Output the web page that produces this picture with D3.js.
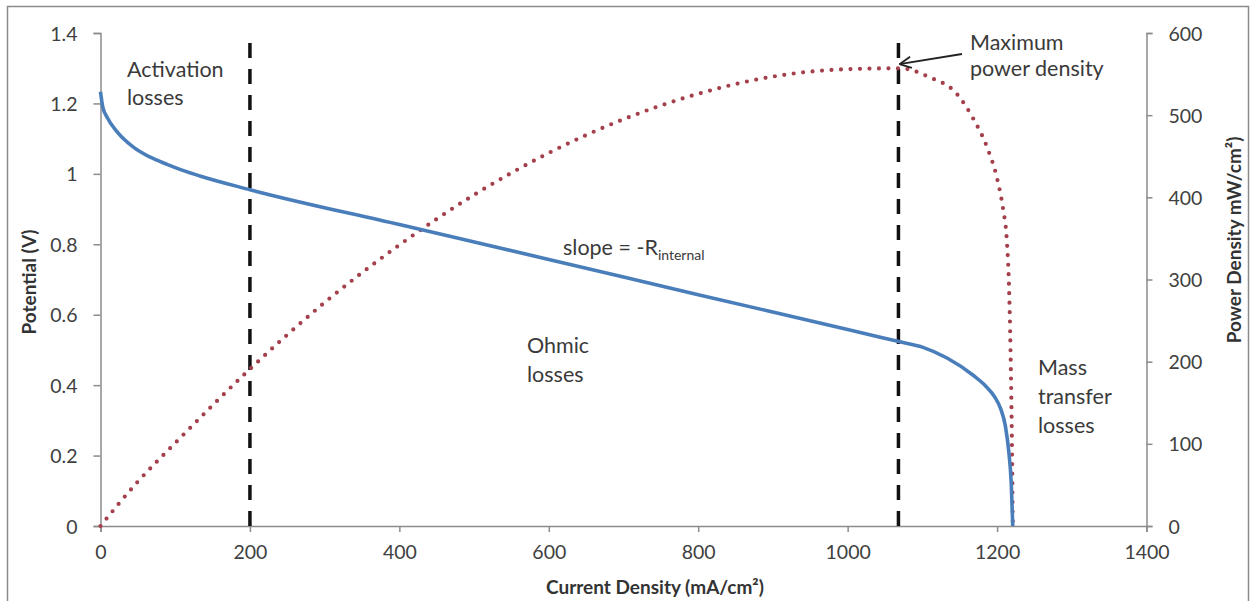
<!DOCTYPE html>
<html>
<head>
<meta charset="utf-8">
<script src="https://cdn.jsdelivr.net/npm/d3@7/dist/d3.min.js"></script>
<style>
  html, body { margin: 0; padding: 0; background: #fff; }
  svg { display: block; font-family: Lato, "Open Sans", sans-serif; }
</style>
</head>
<body>
<svg id="chart" width="1255" height="601"></svg>
<script>
// ---- data ----
const voltCurrent = [0, 3, 9, 22, 44, 66, 89, 110, 133, 200, 400, 600, 800, 1000, 1070, 1100, 1133, 1168, 1185, 1197, 1205, 1211, 1216, 1219, 1221];
const voltage     = [1.233, 1.19, 1.16, 1.12, 1.076, 1.048, 1.027, 1.01, 0.994, 0.955, 0.856, 0.757, 0.657, 0.558, 0.523, 0.508, 0.477, 0.428, 0.397, 0.366, 0.332, 0.285, 0.205, 0.12, 0];

const powerCurrent = [0, 50, 100, 200, 300, 400, 500, 600, 700, 800, 900, 1000, 1070, 1110, 1146, 1168, 1187, 1200, 1208, 1213, 1216, 1218, 1220, 1221];
const powerDensity = [0, 54, 101, 191, 272, 342, 403, 454, 495, 526, 547, 556, 557, 546, 526, 496, 460, 423, 386, 348, 291, 214, 92, 0];

const xTicks = [0, 200, 400, 600, 800, 1000, 1200, 1400];
const yLeftTicks = [0, 0.2, 0.4, 0.6, 0.8, 1, 1.2, 1.4];
const yRightTicks = [0, 100, 200, 300, 400, 500, 600];

const regionLines = [200, 1068];   // dashed vertical dividers (mA/cm²)
const maxPowerPoint = { i: 1068, p: 562 };

// ---- layout ----
const svg = d3.select("#chart");
const plotL = 100.5, plotR = 1146.5, plotT = 33, plotB = 526;

const x = d3.scaleLinear().domain([0, 1400]).range([plotL, plotR]);
const yL = d3.scaleLinear().domain([0, 1.4]).range([plotB, plotT]);
const yR = d3.scaleLinear().domain([0, 600]).range([plotB, plotT]);

const axisColor = "#8c8c8c";
const tickText = "#404040";

// outer border
svg.append("rect").attr("x", 7.5).attr("y", 6.5).attr("width", 1241).attr("height", 600)
  .attr("fill", "none").attr("stroke", "#8a8a8a").attr("stroke-width", 1.5);

function styleAxis(g) {
  g.select(".domain").attr("stroke", axisColor).attr("stroke-width", 1.5);
  g.selectAll(".tick line").attr("stroke", axisColor).attr("stroke-width", 1.5);
  g.selectAll(".tick text").attr("fill", tickText).attr("font-size", 19.5).attr("font-family", "Lato, sans-serif");
}

const gx = svg.append("g").attr("transform", `translate(0,${plotB})`)
  .call(d3.axisBottom(x).tickValues(xTicks).tickFormat(d3.format("d")).tickSizeOuter(0).tickSize(6).tickPadding(13));
styleAxis(gx);

const gyl = svg.append("g").attr("transform", `translate(${plotL},0)`)
  .call(d3.axisLeft(yL).tickValues(yLeftTicks).tickFormat(d => String(+d.toFixed(1))).tickSizeOuter(0).tickSize(7).tickPadding(16));
styleAxis(gyl);
gyl.selectAll(".tick text").attr("dy", "0.36em");

const gyr = svg.append("g").attr("transform", `translate(${plotR},0)`)
  .call(d3.axisRight(yR).tickValues(yRightTicks).tickFormat(d3.format("d")).tickSizeOuter(0).tickSize(6).tickPadding(16));
styleAxis(gyr);
gyr.selectAll(".tick text").attr("dy", "0.36em");

// axis titles
svg.append("text").attr("x", 655).attr("y", 594).attr("text-anchor", "middle")
  .attr("font-weight", "bold").attr("font-size", 19).attr("fill", "#333")
  .text("Current Density (mA/cm²)");
svg.append("text").attr("transform", "translate(36,282) rotate(-90)").attr("text-anchor", "middle")
  .attr("font-weight", "bold").attr("font-size", 19).attr("fill", "#333")
  .text("Potential (V)");
svg.append("text").attr("transform", "translate(1241,240) rotate(-90)").attr("text-anchor", "middle")
  .attr("font-weight", "bold").attr("font-size", 19).attr("fill", "#333")
  .text("Power Density mW/cm²)");

// dashed region dividers
svg.selectAll("line.div").data(regionLines).enter().append("line")
  .attr("class", "div")
  .attr("x1", d => x(d)).attr("x2", d => x(d))
  .attr("y1", yL(0)).attr("y2", yL(1.38))
  .attr("stroke", "#111").attr("stroke-width", 3.5)
  .attr("stroke-dasharray", "15 11");

// power density (dotted)
const powerPts = powerCurrent.map((c, k) => [c, powerDensity[k]]);
svg.append("path").datum(powerPts)
  .attr("d", d3.line().x(d => x(d[0])).y(d => yR(d[1])).curve(d3.curveMonotoneX))
  .attr("fill", "none").attr("stroke", "#a3404c").attr("stroke-width", 4.2)
  .attr("stroke-linecap", "round").attr("stroke-dasharray", "0 9.5");

// polarization curve
const voltPts = voltCurrent.map((c, k) => [c, voltage[k]]);
svg.append("path").datum(voltPts)
  .attr("d", d3.line().x(d => x(d[0])).y(d => yL(d[1])).curve(d3.curveMonotoneX))
  .attr("fill", "none").attr("stroke", "#4a7ebb").attr("stroke-width", 3.6)
  .attr("stroke-linejoin", "round");

// annotations
const annColor = "#3a3a3a";
function multiText(xp, yp, lines, gap) {
  const t = svg.append("text").attr("x", xp).attr("y", yp).attr("font-size", 21.5).attr("fill", annColor);
  lines.forEach((l, k) => t.append("tspan").attr("x", xp).attr("dy", k === 0 ? 0 : gap).text(l));
}
multiText(127, 77, ["Activation", "losses"], 28);
multiText(970, 50, ["Maximum", "power density"], 26);
multiText(527, 353, ["Ohmic", "losses"], 29);
multiText(1038, 375, ["Mass", "transfer", "losses"], 29);

const slope = svg.append("text").attr("x", 563).attr("y", 255).attr("font-size", 21.5).attr("fill", annColor);
slope.append("tspan").text("slope = -R");
slope.append("tspan").attr("font-size", 14).attr("dy", 5).text("internal");

// arrow to maximum power density
const tipX = x(maxPowerPoint.i) + 1, tipY = yR(maxPowerPoint.p);
const startX = 962, startY = 54;
svg.append("line").attr("x1", startX).attr("y1", startY).attr("x2", tipX).attr("y2", tipY)
  .attr("stroke", "#222").attr("stroke-width", 1.8);
const ang = Math.atan2(startY - tipY, startX - tipX);
[0.45, -0.45].forEach(a => {
  svg.append("line").attr("x1", tipX).attr("y1", tipY)
    .attr("x2", tipX + 13 * Math.cos(ang + a)).attr("y2", tipY + 13 * Math.sin(ang + a))
    .attr("stroke", "#222").attr("stroke-width", 1.8);
});
</script>
</body>
</html>
